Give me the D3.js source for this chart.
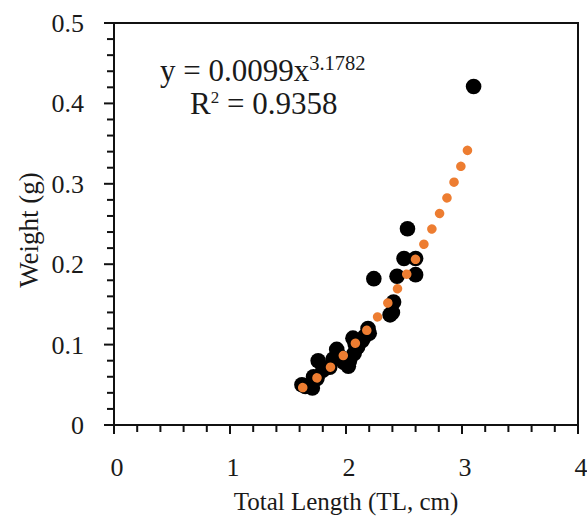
<!DOCTYPE html>
<html>
<head>
<meta charset="utf-8">
<script src="https://cdn.jsdelivr.net/npm/d3@7"></script>
<style>
  body { margin: 0; background: #fff; }
  svg text { font-family: "Liberation Serif", "Times New Roman", serif; fill: #1a1a1a; }
</style>
</head>
<body>
<div id="chart"></div>
<script>
// measured fish, total length (cm) vs weight (g)
var totalLength = [1.62, 1.65, 1.71, 1.72, 1.75, 1.76, 1.80, 1.86, 1.89, 1.92, 1.95, 1.98,
  2.02, 2.03, 2.06, 2.07, 2.08, 2.10, 2.14, 2.16, 2.19, 2.20, 2.24, 2.38, 2.40, 2.41,
  2.44, 2.50, 2.53, 2.60, 2.60, 3.10];
var weight = [0.050, 0.048, 0.046, 0.060, 0.058, 0.080, 0.068, 0.072, 0.082, 0.094, 0.085, 0.078,
  0.073, 0.080, 0.108, 0.089, 0.100, 0.097, 0.105, 0.110, 0.120, 0.114, 0.182, 0.137, 0.140, 0.153,
  0.185, 0.207, 0.244, 0.207, 0.187, 0.421];

// power trendline shown on the chart
var trendA = 0.0099;
var trendB = 3.1782;
var trendRange = [1.627, 3.047];
var trendDots = 18;

var xTicks = [0, 1, 2, 3, 4];
var yTicks = [0, 0.1, 0.2, 0.3, 0.4, 0.5];

var svgW = 587;
var svgH = 525;
var plot = { left: 114, right: 578, top: 23, bottom: 425 };

var svg = d3.select("#chart")
  .append("svg")
  .attr("width", svgW)
  .attr("height", svgH);

var x = d3.scaleLinear().domain([0, 4]).range([plot.left, plot.right]);
var y = d3.scaleLinear().domain([0, 0.5]).range([plot.bottom, plot.top]);

// frame
svg.append("rect")
  .attr("x", plot.left)
  .attr("y", plot.top)
  .attr("width", plot.right - plot.left)
  .attr("height", plot.bottom - plot.top)
  .attr("fill", "none")
  .attr("stroke", "#111")
  .attr("stroke-width", 2);

// minor + major ticks
var xMinor = d3.range(0, 4.001, 0.2);
svg.append("g").selectAll("line")
  .data(xMinor)
  .enter()
  .append("line")
  .attr("x1", d => x(d))
  .attr("x2", d => x(d))
  .attr("y1", plot.bottom)
  .attr("y2", d => plot.bottom + (Math.abs(d - Math.round(d)) < 1e-6 ? 9 : 7))
  .attr("stroke", "#111")
  .attr("stroke-width", 2);

var yMinor = d3.range(0, 0.5001, 0.02);
svg.append("g").selectAll("line")
  .data(yMinor)
  .enter()
  .append("line")
  .attr("y1", d => y(d))
  .attr("y2", d => y(d))
  .attr("x1", plot.left)
  .attr("x2", d => plot.left - (Math.abs(d * 10 - Math.round(d * 10)) < 1e-6 ? 10 : 7))
  .attr("stroke", "#111")
  .attr("stroke-width", 2);

// tick labels
svg.append("g").selectAll("text")
  .data(xTicks)
  .enter()
  .append("text")
  .attr("x", d => x(d) + 3)
  .attr("y", 476)
  .attr("text-anchor", "middle")
  .attr("font-size", 26)
  .text(d => d);

svg.append("g").selectAll("text")
  .data(yTicks)
  .enter()
  .append("text")
  .attr("x", 84)
  .attr("y", d => y(d) + 9)
  .attr("text-anchor", "end")
  .attr("font-size", 26)
  .text(d => d === 0 ? "0" : d3.format(".1f")(d));

// axis titles
svg.append("text")
  .attr("x", 346)
  .attr("y", 510)
  .attr("text-anchor", "middle")
  .attr("font-size", 25)
  .text("Total Length (TL, cm)");

svg.append("text")
  .attr("transform", `translate(38, 230) rotate(-90)`)
  .attr("text-anchor", "middle")
  .attr("font-size", 27)
  .text("Weight (g)");

// data points
var pts = totalLength.map((d, i) => ({ tl: d, w: weight[i] }));
svg.append("g").selectAll("circle")
  .data(pts)
  .enter()
  .append("circle")
  .attr("cx", d => x(d.tl))
  .attr("cy", d => y(d.w))
  .attr("r", 7.8)
  .attr("fill", "#000");

// dotted power trendline
var trendX = d3.range(trendRange[0], trendRange[1], 0.004).concat([trendRange[1]]);
var line = d3.line()
  .x(d => x(d))
  .y(d => y(trendA * Math.pow(d, trendB)));

var trend = svg.append("path")
  .datum(trendX)
  .attr("d", line)
  .attr("fill", "none")
  .attr("stroke", "#ED7D31")
  .attr("stroke-width", 9.5)
  .attr("stroke-linecap", "round");

var trendLen = trend.node().getTotalLength();
trend.attr("stroke-dasharray", `0.01 ${(trendLen - 0.01) / (trendDots - 1) - 0.01}`);

// equation
var eq = svg.append("text")
  .attr("x", 160)
  .attr("y", 81)
  .attr("font-size", 31);
eq.append("tspan").text("y = 0.0099x");
eq.append("tspan")
  .attr("font-size", 20.5)
  .attr("dy", -11)
  .text("3.1782");

var r2 = svg.append("text")
  .attr("x", 190)
  .attr("y", 114)
  .attr("font-size", 31);
r2.append("tspan").text("R");
r2.append("tspan").attr("font-size", 17).attr("dy", -11).text("2");
r2.append("tspan").attr("dy", 11).text(" = 0.9358");
</script>
</body>
</html>
